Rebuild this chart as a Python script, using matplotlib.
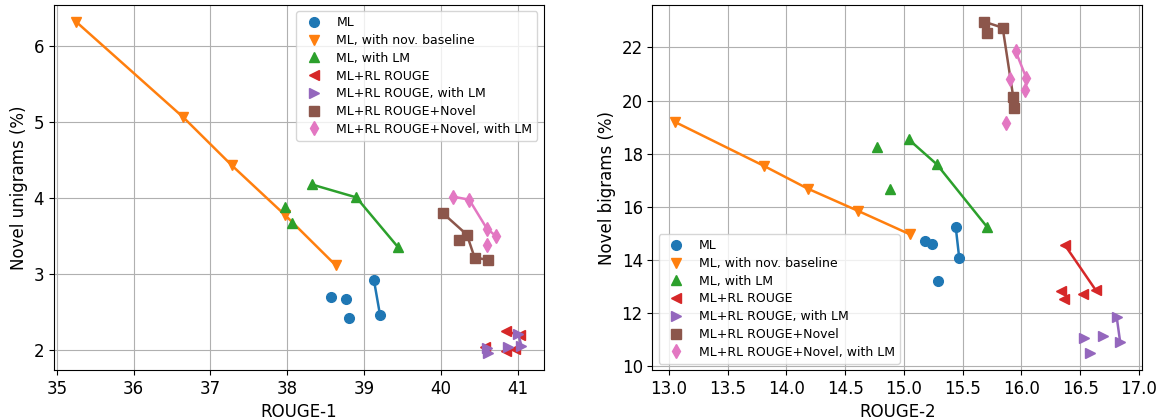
import numpy as np
import matplotlib
matplotlib.use('Agg')
import matplotlib.pyplot as plt

labels = ['ML', 'ML, with nov. baseline', 'ML, with LM', 'ML+RL ROUGE',
          'ML+RL ROUGE, with LM', 'ML+RL ROUGE+Novel', 'ML+RL ROUGE+Novel, with LM']
markers = ['o', 'v', '^', '<', '>', 's', 'd']

# ROUGE-1 vs novel unigrams
r1_x = [
    [38.57, 38.76, 38.80, 39.13, 39.21],
    [35.25, 36.65, 37.28, 37.97, 38.63],
    [37.97, 38.06, 38.32, 38.90, 39.44],
    [40.85, 41.03, 40.57, 40.85, 40.96],
    [41.01, 41.05, 40.87, 40.60, 40.61],
    [40.03, 40.24, 40.34, 40.44, 40.61],
    [40.16, 40.37, 40.60, 40.72, 40.60],
]
r1_y = [
    [2.70, 2.68, 2.43, 2.92, 2.46],
    [6.32, 5.06, 4.43, 3.78, 3.12],
    [3.88, 3.68, 4.18, 4.01, 3.36],
    [2.25, 2.20, 2.05, 1.99, 2.02],
    [2.21, 2.06, 2.05, 2.03, 1.96],
    [3.80, 3.45, 3.52, 3.22, 3.19],
    [4.02, 3.98, 3.60, 3.50, 3.38],
]

# ROUGE-2 vs novel bigrams
r2_x = [
    [15.18, 15.24, 15.44, 15.47, 15.29],
    [13.05, 13.81, 14.18, 14.61, 15.05],
    [14.77, 14.88, 15.04, 15.28, 15.71],
    [16.37, 16.63, 16.34, 16.36, 16.52],
    [16.81, 16.84, 16.69, 16.53, 16.58],
    [15.68, 15.84, 15.71, 15.93, 15.94],
    [15.95, 15.90, 16.04, 16.03, 15.87],
]
r2_y = [
    [14.72, 14.62, 15.26, 14.09, 13.21],
    [19.20, 17.54, 16.69, 15.85, 14.97],
    [18.24, 16.66, 18.54, 17.60, 15.23],
    [14.56, 12.88, 12.84, 12.55, 12.71],
    [11.86, 10.90, 11.15, 11.06, 10.49],
    [22.97, 22.74, 22.53, 20.13, 19.71],
    [21.86, 20.82, 20.86, 20.40, 19.17],
]


def pareto(xs, ys):
    # points not beaten on both axes by another point of the same run
    pts = []
    for i in range(len(xs)):
        dominated = False
        for j in range(len(xs)):
            if i != j and xs[j] >= xs[i] and ys[j] >= ys[i] and (xs[j], ys[j]) != (xs[i], ys[i]):
                dominated = True
        if not dominated:
            pts.append((xs[i], ys[i]))
    pts.sort()
    return [p[0] for p in pts], [p[1] for p in pts]


def draw(ax, xs, ys, xlabel, ylabel, loc):
    for k in range(len(labels)):
        c = 'C%d' % k
        fx, fy = pareto(xs[k], ys[k])
        ax.plot(fx, fy, color=c, linewidth=1.8)
        ax.plot(xs[k], ys[k], marker=markers[k], linestyle='none', color=c,
                markersize=7, label=labels[k])
    ax.set_xlabel(xlabel, fontsize=12)
    ax.set_ylabel(ylabel, fontsize=12)
    ax.tick_params(labelsize=12)
    ax.grid(True)
    ax.legend(loc=loc, fontsize=9, labelspacing=0.38)


fig, (ax1, ax2) = plt.subplots(1, 2, figsize=(11.67, 4.19), dpi=100)
fig.subplots_adjust(left=0.046, right=0.979, top=0.988, bottom=0.117, wspace=0.222)
draw(ax1, r1_x, r1_y, 'ROUGE-1', 'Novel unigrams (%)', 'upper right')
draw(ax2, r2_x, r2_y, 'ROUGE-2', 'Novel bigrams (%)', 'lower left')
ax2.set_xticks(np.arange(13.0, 17.01, 0.5))
fig.savefig('out.png', dpi=100)
